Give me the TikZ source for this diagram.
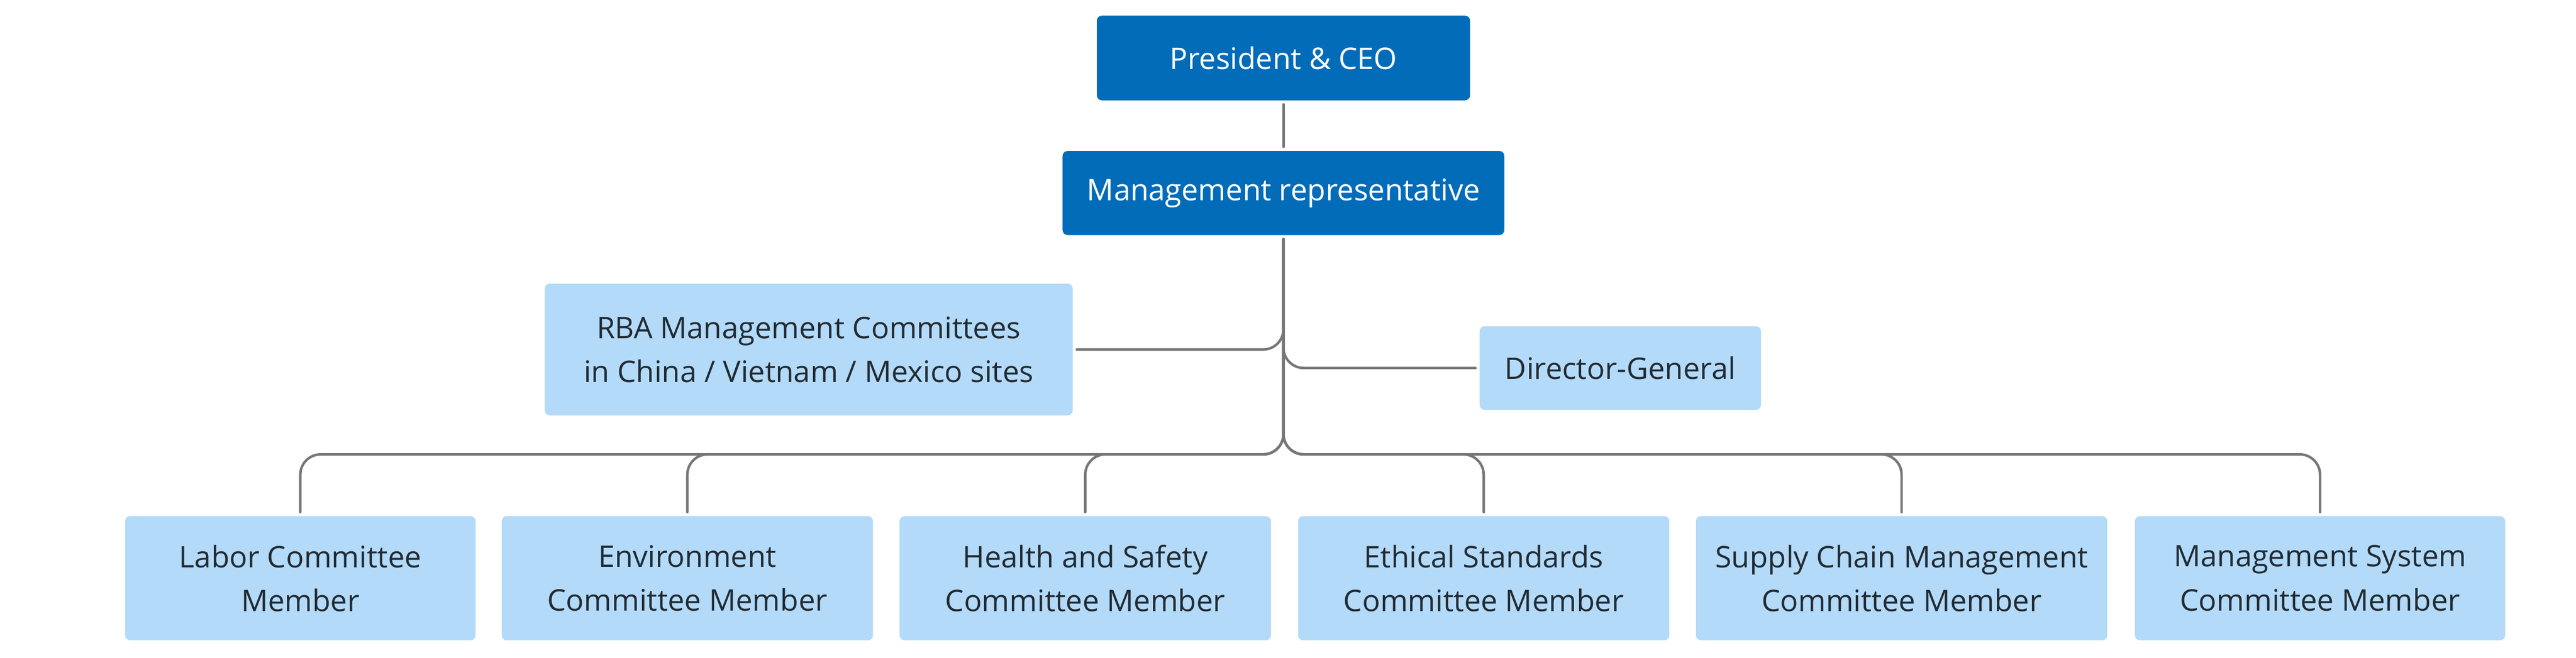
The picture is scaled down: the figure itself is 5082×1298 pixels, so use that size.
\documentclass[tikz,border=0pt]{standalone}
\usepackage{fontspec}
\setmainfont{Open Sans}
\definecolor{cDark}{HTML}{036CB9}
\definecolor{cLight}{HTML}{B3DAF8}
\definecolor{cText}{HTML}{222B33}
\definecolor{cLine}{HTML}{777777}
\newcommand\boxfont{\fontsize{16.7}{24.7}\selectfont}
\begin{document}
\begin{tikzpicture}[x=0.01cm,y=-0.01cm,
  base/.style={inner sep=0pt, outer sep=0.08cm, rounded corners=0.1cm, align=center, font=\boxfont},
  dark/.style={base, fill=cDark, text=white},
  light/.style={base, fill=cLight, text=cText},
  conn/.style={draw=cLine, line width=0.05cm, rounded corners=0.4cm, line cap=round}]
\useasboundingbox (0,0) rectangle (5082,1298);
% top
\node[dark, minimum width=7.36cm, minimum height=1.67cm] (pres) at (2532,114.5) {President \& CEO};
\node[dark, minimum width=8.71cm, minimum height=1.66cm] (mgmt) at (2532,381) {Management representative};
\node[light, minimum width=10.41cm, minimum height=2.60cm] (rba) at (1595.5,690) {RBA Management Committees\\in China / Vietnam / Mexico sites};
\node[light, minimum width=5.55cm, minimum height=1.65cm] (dir) at (3196.5,726.5) {Director-General};
% bottom row
\node[light, minimum width=6.91cm, minimum height=2.45cm] (labor) at (592.5,1141.5) {Labor Committee\\Member};
\node[light, minimum width=7.32cm, minimum height=2.45cm] (env) at (1356,1141.5) {Environment\\Committee Member};
\node[light, minimum width=7.32cm, minimum height=2.45cm] (hs) at (2141,1141.5) {Health and Safety\\Committee Member};
\node[light, minimum width=7.32cm, minimum height=2.45cm] (eth) at (2927,1141.5) {Ethical Standards\\Committee Member};
\node[light, minimum width=8.11cm, minimum height=2.45cm] (sup) at (3751.5,1141.5) {Supply Chain Management\\Committee Member};
\node[light, minimum width=7.30cm, minimum height=2.45cm] (ms) at (4577,1141.5) {Management System\\Committee Member};
\coordinate (bus) at (2532,897);
% connectors
\draw[conn] (pres) -- (mgmt);
\draw[conn] (mgmt.south) |- (rba.east);
\draw[conn] (mgmt.south) |- (dir.west);
\foreach \c in {labor,env,hs,eth,sup,ms}{
  \draw[conn] (mgmt.south) -- (bus) -- (bus -| \c.north) -- (\c.north);
}
\end{tikzpicture}
\end{document}
